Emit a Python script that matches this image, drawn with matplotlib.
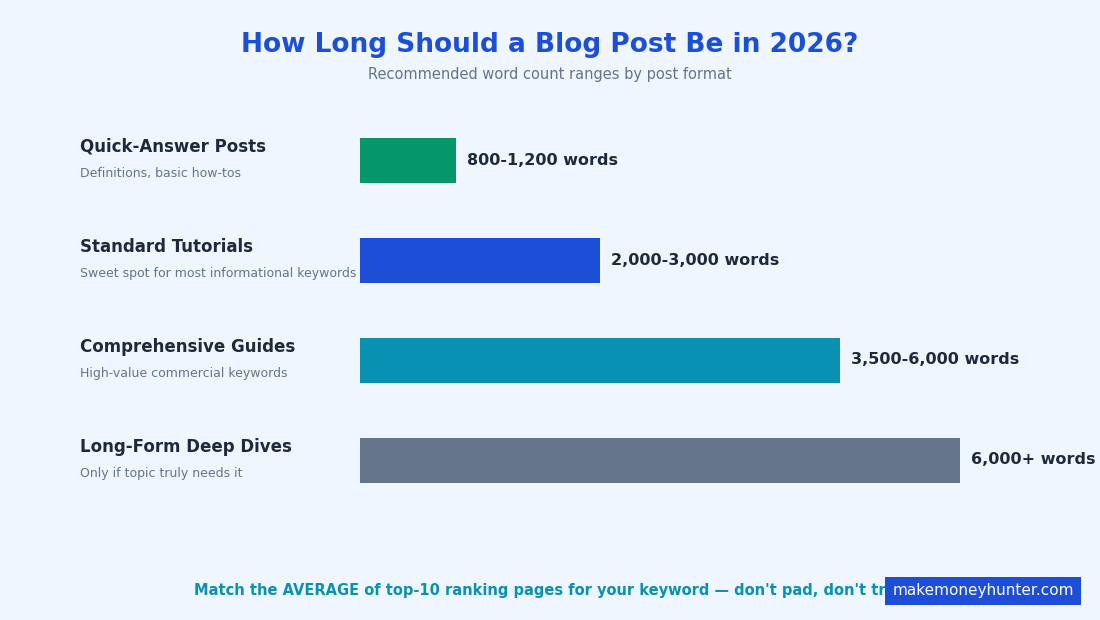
import matplotlib
matplotlib.use("Agg")
import matplotlib.pyplot as plt

# data
formats = ["Quick-Answer Posts", "Standard Tutorials", "Comprehensive Guides", "Long-Form Deep Dives"]
notes = ["Definitions, basic how-tos", "Sweet spot for most informational keywords",
         "High-value commercial keywords", "Only if topic truly needs it"]
upper_words = [1200, 3000, 6000, 7500]
range_labels = ["800-1,200 words", "2,000-3,000 words", "3,500-6,000 words", "6,000+ words"]
colors = ["#059669", "#1d4ed8", "#0891b2", "#64748b"]

bg = "#eff6ff"
dark = "#1e293b"
gray = "#64748b"

W, H = 1100, 620
fig = plt.figure(figsize=(W / 100, H / 100), dpi=100, facecolor=bg)

fig.text(0.5, 1 - 45 / H, "How Long Should a Blog Post Be in 2026?", ha="center", va="center",
         fontsize=19, fontweight="bold", color="#1d4ed8")
fig.text(0.5, 1 - 74 / H, "Recommended word count ranges by post format", ha="center", va="center",
         fontsize=10.5, color=gray)

# bar axes: starts at x=360px, 0.08 px per word
ax = fig.add_axes([360 / W, (H - 510) / H, 740 / W, 400 / H])
ax.set_facecolor("none")
ax.set_xlim(0, 740 / 0.08)
ax.set_ylim(3.5, -0.5)
ax.axis("off")
ax.barh(range(len(formats)), upper_words, height=0.45, color=colors)
for i, (v, lab) in enumerate(zip(upper_words, range_labels)):
    ax.text(v + 140, i, lab, va="center", ha="left", fontsize=11.5, fontweight="bold", color=dark)

for i, (name, note) in enumerate(zip(formats, notes)):
    yc = 160 + 100 * i
    fig.text(80 / W, 1 - (yc - 13) / H, name, va="center", ha="left", fontsize=12,
             fontweight="bold", color=dark)
    fig.text(80 / W, 1 - (yc + 13) / H, note, va="center", ha="left", fontsize=9, color=gray)

fig.text(0.5, 1 - 590 / H,
         "Match the AVERAGE of top-10 ranking pages for your keyword \u2014 don't pad, don't trim",
         ha="center", va="center", fontsize=10.5, fontweight="bold", color="#0891b2")
fig.text(983 / W, 1 - 591 / H, "makemoneyhunter.com", ha="center", va="center", fontsize=11,
         color="white", bbox=dict(boxstyle="square,pad=0.45", fc="#1d4ed8", ec="none"))

fig.savefig("out.png", dpi=100, facecolor=bg)
